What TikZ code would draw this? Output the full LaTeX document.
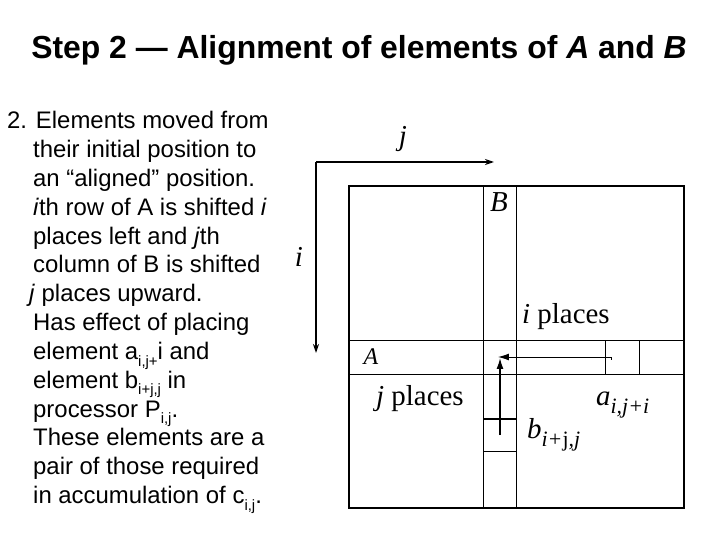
\documentclass[tikz,border=0pt]{standalone}
\usepackage{fontspec}
\setmainfont{Liberation Sans}
\newfontfamily\tms{Liberation Serif}
\usetikzlibrary{arrows.meta}
\newcommand{\bsub}[1]{\raisebox{-0.28em}{\fontsize{15}{15}\selectfont #1}}
\newcommand{\dsub}[1]{\raisebox{-0.3em}{\fontsize{22}{22}\selectfont\itshape #1}}
\tikzset{
  bodyline/.style={anchor=base west, inner sep=0pt, font=\fontsize{24}{28.8}\selectfont},
  lbl/.style={inner sep=0pt, anchor=base, font=\tms\fontsize{29}{31}\selectfont},
  thin/.style={line width=0.9pt},
  axis/.style={line width=1.6pt, -{Stealth[length=9pt,width=6pt]}},
  move/.style={line width=1.4pt, -{Latex[length=11pt,width=7pt]}}
}
\begin{document}
\begin{tikzpicture}[x=1bp,y=-1bp]
\useasboundingbox (0,0) rectangle (720,540);
% title
\node[anchor=base, inner sep=0pt, font=\bfseries\fontsize{32}{36}\selectfont] (title) at (359,59) {Step 2 — Alignment of elements of \textit{A} and \textit{B}};
% body text
\node[bodyline] (l1) at (7,129) {2. Elements moved from};
\node[bodyline] (l2) at (33,157.8) {their initial position to};
\node[bodyline] (l3) at (33,186.6) {an “aligned” position.};
\node[bodyline] (l4) at (33,215.4) {\textit{i}th row of A is shifted \textit{i}};
\node[bodyline] (l5) at (33,244.2) {places left and \textit{j}th};
\node[bodyline] (l6) at (33,273) {column of B is shifted};
\node[bodyline] (l7) at (29,301.8) {\textit{j} places upward.};
\node[bodyline] (l8) at (33,330.6) {Has effect of placing};
\node[bodyline] (l9) at (33,359.4) {element a\bsub{i,j+}i and};
\node[bodyline] (l10) at (33,388.2) {element b\bsub{i+j,j} in};
\node[bodyline] (l11) at (33,417) {processor P\bsub{i,j}.};
\node[bodyline] (l12) at (33,445.8) {These elements are a};
\node[bodyline] (l13) at (33,474.6) {pair of those required};
\node[bodyline] (l14) at (33,503.4) {in accumulation of c\bsub{i,j}.};
% matrix
\draw[line width=2.6pt] (349,186) rectangle (684,508);
\draw[thin] (483,186) -- (483,508) (516,186) -- (516,508);
\draw[thin] (349,340) -- (684,340) (349,374) -- (684,374);
\draw[thin] (605,340) -- (605,374) (639,340) -- (639,374);
\draw[thin] (483,451) -- (516,451);
\draw[line width=1.6pt] (483,419) -- (516,419);
% axes
\coordinate (corner) at (316,162);
\coordinate (jend) at (494,162);
\coordinate (iend) at (316,353);
\draw[axis] (corner) -- (jend);
\draw[axis] (corner) -- (iend);
\node[lbl] (jlab) at (403,146) {\itshape j};
\node[lbl] (ilab) at (299,267) {\itshape i};
% movement arrows
\coordinate (astart) at (611,357);
\coordinate (aend) at (498,357);
\coordinate (bstart) at (500,435);
\coordinate (bend) at (500,358);
\draw[thin] (611,357) -- (611,360);
\draw[move, line width=1pt] (astart) -- (aend);
\draw[move] (bstart) -- (bend);
% labels
\node[lbl] (Blab) at (499,212) {\itshape B};
\node[lbl, font=\tms\fontsize{24}{26}\selectfont] (Alab) at (371,364) {\itshape A};
\node[lbl, anchor=base west] (iplaces) at (522,323) {\textit{i} places};
\node[lbl, anchor=base west] (jplaces) at (376,405) {\textit{j} places};
\node[lbl, anchor=base west] (aij) at (596,405) {\textit{a}\dsub{i,j+i}};
\node[lbl, anchor=base west] (bij) at (527,438) {\textit{b}\dsub{i+\textup{j},j}};
\end{tikzpicture}
\end{document}
